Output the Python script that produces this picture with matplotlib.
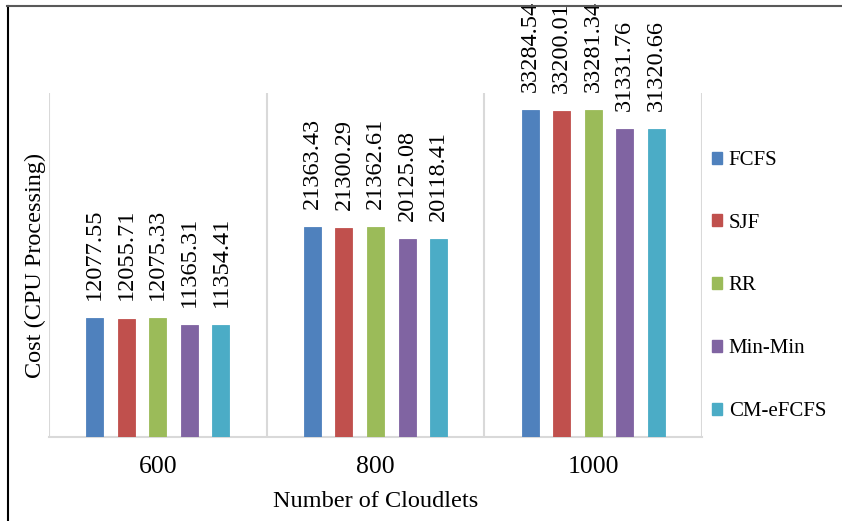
import matplotlib
matplotlib.use("Agg")
import matplotlib.pyplot as plt
from matplotlib.lines import Line2D
from matplotlib.patches import Patch
import numpy as np

plt.rcParams['font.family'] = ['Liberation Serif', 'DejaVu Serif']

categories = ["600", "800", "1000"]
series_names = ["FCFS", "SJF", "RR", "Min-Min", "CM-eFCFS"]
fcfs = [12077.55, 21363.43, 33284.54]
sjf = [12055.71, 21300.29, 33200.01]
rr = [12075.33, 21362.61, 33281.34]
minmin = [11365.31, 20125.08, 31331.76]
cmefcfs = [11354.41, 20118.41, 31320.66]
series_values = [fcfs, sjf, rr, minmin, cmefcfs]
colors = ["#4F81BD", "#C0504D", "#9BBB59", "#8064A2", "#4BACC6"]

W, H = 842, 521
fig = plt.figure(figsize=(W/100, H/100), dpi=100)
ax = fig.add_axes([49/W, (H-437)/H, (702-49)/W, (437-93)/H])

x = np.arange(len(categories))
step = 0.1448
bw = 0.078
for i, (vals, c) in enumerate(zip(series_values, colors)):
    pos = x + (i - 2) * step
    ax.bar(pos, vals, width=bw, color=c, edgecolor=c, linewidth=0.6, zorder=3)
    for xi, v in zip(pos, vals):
        ax.annotate(f"{v:.2f}", (xi, v), xytext=(0, 13), textcoords="offset points",
                    rotation=90, ha="center", va="bottom", fontsize=17.5, color="black")

ax.set_xlim(-0.5, len(categories) - 0.5)
ax.set_ylim(0, 35000)
ax.set_yticks([])
ax.set_xticks(x)
ax.set_xticklabels(categories, fontsize=18.5)
ax.tick_params(axis='x', length=0, pad=14)
for b in np.arange(-0.5, len(categories), 1.0):
    ax.axvline(b, color="#D9D9D9", linewidth=1.5, zorder=1)
for s in ["top", "left", "right"]:
    ax.spines[s].set_visible(False)
ax.spines["bottom"].set_color("#D9D9D9")
ax.spines["bottom"].set_linewidth(1.5)

ax.set_xlabel("Number of Cloudlets", fontsize=17.5, labelpad=9)
fig.text(35/W, (H-265)/H, "Cost (CPU Processing)", rotation=90, ha="center", va="center", fontsize=17.5)

handles = [Patch(facecolor=c, edgecolor=c) for c in colors]
fig.legend(handles, series_names, loc="center left", bbox_to_anchor=(712/W, (H-286)/H),
           frameon=False, fontsize=15, handlelength=0.5, handleheight=0.5,
           handletextpad=0.3, labelspacing=2.1, borderpad=0, borderaxespad=0)

fig.add_artist(Line2D([7.5/W, 7.5/W], [0, (H-6)/H], color="black", linewidth=1.5, transform=fig.transFigure))
fig.add_artist(Line2D([7/W, 1], [(H-6)/H, (H-6)/H], color="#595959", linewidth=1.5, transform=fig.transFigure))

fig.savefig("out.png", dpi=100)
